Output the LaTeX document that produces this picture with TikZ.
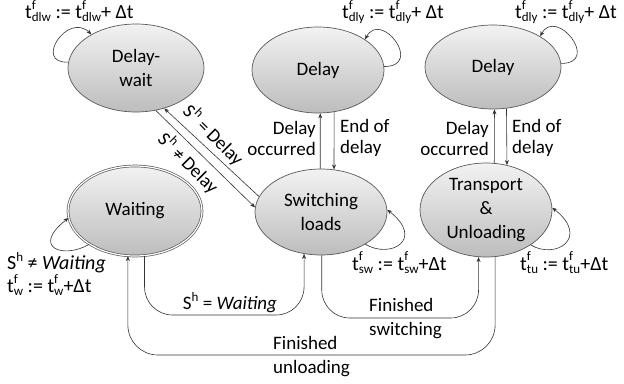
\documentclass[tikz,border=0pt]{standalone}
\usepackage{fontspec}
\setmainfont{Carlito}
\usetikzlibrary{arrows.meta,shapes.geometric}
\newcommand\smf{\fontsize{13}{13}\selectfont}
\newcommand\tv[1]{t\rlap{\raisebox{0.47em}{\smf f}}\raisebox{-0.17em}{\smf #1}}
\newcommand\shh{S\raisebox{0.43em}{\smf h}}
\begin{document}
\begin{tikzpicture}[x=1pt,y=-1pt,
  state/.style={ellipse, draw=black!65, line width=0.7pt, top color=gray!10, bottom color=gray!52,
    inner sep=0pt, align=center, font=\fontsize{19}{24}\selectfont},
  conn/.style={draw=black!80, line width=0.6pt},
  tip/.style={-{Stealth[length=5pt,width=4pt]}},
  lbl/.style={font=\fontsize{19}{21}\selectfont, inner sep=0pt},
  lbl2/.style={font=\fontsize{19}{24}\selectfont, inner sep=0pt},
  lbl3/.style={font=\fontsize{20}{19}\selectfont, inner sep=0pt}]
\useasboundingbox (0,0) rectangle (624,383);
% states
\node[state, minimum width=136pt, minimum height=88pt] (dw) at (136,68) {Delay-\\wait};
\node[state, minimum width=132pt, minimum height=86pt] (dm) at (318,70) {Delay};
\node[state, minimum width=136pt, minimum height=84pt] (dr) at (493,67) {Delay};
\node[state, double, double distance=1.2pt, minimum width=134pt, minimum height=90pt] (wt) at (135,211) {Waiting};
\node[state, minimum width=132pt, minimum height=86pt] (sw) at (321,212) {Switching\\loads};
\node[state, minimum width=132pt, minimum height=94pt] (tu) at (486,210) {Transport\\\&\\Unloading};
% self loops
\draw[conn,tip] (dw.175) .. controls +(-35,2) and +(-24,-23) .. (dw.143);
\draw[conn,tip] (dm.3) .. controls +(40,0) and +(16,-30) .. (dm.33);
\draw[conn,tip] (dr.3) .. controls +(40,0) and +(16,-30) .. (dr.33);
\draw[conn,tip] (wt.-144) .. controls +(-25,15) and +(-38,30) .. (wt.186);
\draw[conn,tip] (sw.-36) .. controls +(25,15) and +(38,30) .. (sw.2);
\draw[conn,tip] (tu.-38) .. controls +(25,15) and +(38,30) .. (tu.2);
% vertical pairs
\draw[conn,tip] (sw.91) -- (dm.-87);
\draw[conn,tip] (dm.-69) -- (sw.73);
\draw[conn,tip] (tu.80.3) -- (dr.-88.6);
\draw[conn,tip] (dr.-72.5) -- (tu.65.9);
% diagonals
\draw[conn,tip] (dw.-65) -- (sw.176);
\draw[conn,tip] (sw.166) -- (dw.-55);
% bottom connectors
\coordinate (b1) at (0,315);
\coordinate (b2) at (0,318);
\coordinate (b3) at (0,355);
\draw[conn,tip,rounded corners=28pt] (wt.-78) |- (b1 -| sw.-112) -- (sw.-112);
\draw[conn,tip,rounded corners=28pt] (sw.-89) |- (b2 -| tu.-99.5) -- (tu.-99.5);
\draw[conn,tip,rounded corners=30pt] (tu.-79) |- (b3 -| wt.-99) -- (wt.-99);
% labels
\node[lbl3, anchor=base west] (ldw) at (25,18.5) {\tv{dlw} := \tv{dlw}+ Δt};
\node[lbl3, anchor=base west] (ldm) at (342,18.5) {\tv{dly} := \tv{dly}+ Δt};
\node[lbl3, anchor=base west] (ldr) at (515,18.5) {\tv{dly} := \tv{dly}+ Δt};
\node[lbl3, align=left, anchor=west] (lwt) at (7,274) {\shh\ ≠ \textit{Waiting}\\\tv{w} := \tv{w}+Δt};
\node[lbl3, anchor=base west] (lsw) at (352,270) {\tv{sw} := \tv{sw}+Δt};
\node[lbl3, anchor=base west] (ltu) at (520,270) {\tv{tu} := \tv{tu}+Δt};
\node[lbl, align=right, anchor=east] (ldo1) at (316,138) {Delay\\occurred};
\node[lbl, align=left, anchor=west] (led1) at (340,138) {End of\\delay};
\node[lbl, align=right, anchor=east] (ldo2) at (489,138) {Delay\\occurred};
\node[lbl, align=left, anchor=west] (led2) at (512,138) {End of\\delay};
\node[lbl, rotate=-45] (leq) at (214,135) {\shh\ = Delay};
\node[lbl, rotate=-45] (lne) at (189,163) {\shh\ ≠ Delay};
\node[lbl] (lwait) at (230,303) {\shh\ = \textit{Waiting}};
\node[lbl2, align=left, anchor=west] (lfs) at (369,319) {Finished\\switching};
\node[lbl2, align=left, anchor=west] (lfu) at (273,357) {Finished\\unloading};
\end{tikzpicture}
\end{document}
